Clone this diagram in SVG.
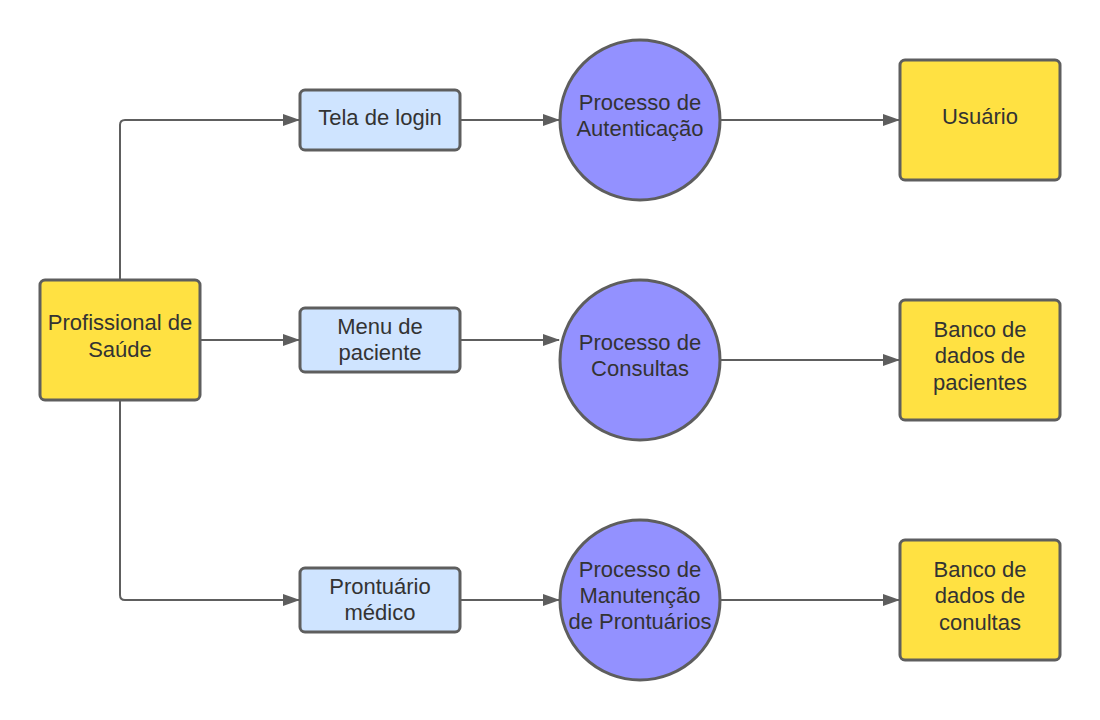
<svg xmlns="http://www.w3.org/2000/svg" width="1100" height="720" viewBox="0 0 1100 720">
<style>
.box{stroke:#5e5e5e;stroke-width:3}
.ext{fill:#ffe142}
.scr{fill:#cfe4ff}
.proc{fill:#9391ff}
.lbl{font-family:"Liberation Sans",Arial,sans-serif;font-size:22px;fill:#333333;text-anchor:middle}
.conn{fill:none;stroke:#5e5e5e;stroke-width:2;marker-end:url(#arr)}
</style>
<defs>
<marker id="arr" viewBox="0 0 17 12" refX="16" refY="6" markerWidth="17" markerHeight="12" markerUnits="userSpaceOnUse" orient="auto">
<path d="M0,0 L17,6 L0,12 Z" fill="#5e5e5e"/>
</marker>
</defs>
<rect width="1100" height="720" fill="#ffffff"/>
<g id="connectors">
<path class="conn" d="M120,280 V125 Q120,120 125,120 H299"/>
<path class="conn" d="M200,340 H299"/>
<path class="conn" d="M120,400 V595 Q120,600 125,600 H299"/>
<path class="conn" d="M460,120 H559"/>
<path class="conn" d="M460,340 H559"/>
<path class="conn" d="M460,600 H559"/>
<path class="conn" d="M720,120 H899"/>
<path class="conn" d="M720,360 H899"/>
<path class="conn" d="M720,600 H899"/>
</g>
<g id="profissional">
<rect class="box ext" x="40" y="280" width="160" height="120" rx="5"/>
<text class="lbl"><tspan x="120" y="330">Profissional de</tspan><tspan x="120" y="357">Saúde</tspan></text>
</g>
<g id="tela-login">
<rect class="box scr" x="300" y="90" width="160" height="60" rx="5"/>
<text class="lbl" x="380" y="125">Tela de login</text>
</g>
<g id="menu-paciente">
<rect class="box scr" x="300" y="308" width="160" height="64" rx="5"/>
<text class="lbl"><tspan x="380" y="334">Menu de</tspan><tspan x="380" y="360">paciente</tspan></text>
</g>
<g id="prontuario-medico">
<rect class="box scr" x="300" y="568" width="160" height="64" rx="5"/>
<text class="lbl"><tspan x="380" y="594">Prontuário</tspan><tspan x="380" y="620">médico</tspan></text>
</g>
<g id="proc-autenticacao">
<circle class="box proc" cx="640" cy="120" r="80"/>
<text class="lbl"><tspan x="640" y="110">Processo de</tspan><tspan x="640" y="136">Autenticação</tspan></text>
</g>
<g id="proc-consultas">
<circle class="box proc" cx="640" cy="360" r="80"/>
<text class="lbl"><tspan x="640" y="350">Processo de</tspan><tspan x="640" y="376">Consultas</tspan></text>
</g>
<g id="proc-prontuarios">
<circle class="box proc" cx="640" cy="600" r="80"/>
<text class="lbl"><tspan x="640" y="577">Processo de</tspan><tspan x="640" y="603">Manutenção</tspan><tspan x="640" y="629">de Prontuários</tspan></text>
</g>
<g id="usuario">
<rect class="box ext" x="900" y="60" width="160" height="120" rx="5"/>
<text class="lbl" x="980" y="124">Usuário</text>
</g>
<g id="banco-pacientes">
<rect class="box ext" x="900" y="300" width="160" height="120" rx="5"/>
<text class="lbl"><tspan x="980" y="337">Banco de</tspan><tspan x="980" y="363">dados de</tspan><tspan x="980" y="390">pacientes</tspan></text>
</g>
<g id="banco-consultas">
<rect class="box ext" x="900" y="540" width="160" height="120" rx="5"/>
<text class="lbl"><tspan x="980" y="577">Banco de</tspan><tspan x="980" y="603">dados de</tspan><tspan x="980" y="630">conultas</tspan></text>
</g>
</svg>
